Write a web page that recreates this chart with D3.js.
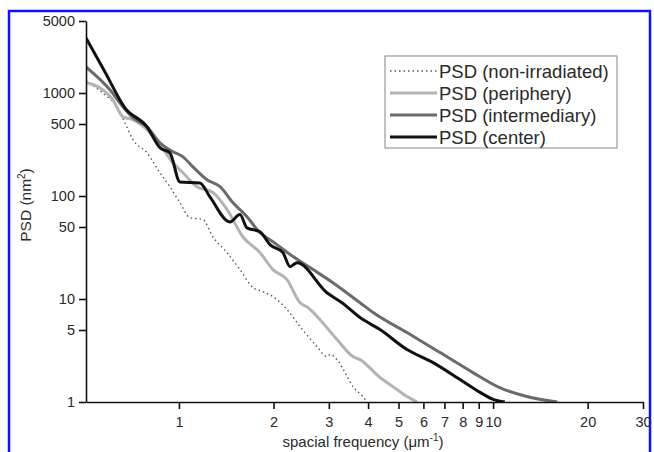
<!DOCTYPE html>
<html>
<head>
<meta charset="utf-8">
<script src="https://cdn.jsdelivr.net/npm/d3@7"></script>
<style>
  body { margin: 0; background: #fff; }
  text { font-family: "Liberation Sans", Arial, sans-serif; fill: #2a2a2a; }
</style>
</head>
<body>
<div id="chart"></div>
<script>
// Données : [fréquence (µm-1), PSD (nm2)]
const noirradie = [[0.506,1320],[0.581,960],[0.639,718],[0.673,514],[0.714,352],[0.791,263],[0.870,168],[0.936,123],
  [1.007,86],[1.084,61.6],[1.192,59],[1.283,40],[1.422,28.2],[1.564,19.3],[1.721,12.9],[1.851,11.8],[2.051,9.87],
  [2.208,7.9],[2.429,5.4],[2.751,3.45],[2.96,2.76],[3.03,2.89],[3.185,2.58],[3.43,1.77],[3.58,1.41],[3.85,1.13],[3.97,1.0]];
const peripherie = [[0.506,1256],[0.560,1122],[0.616,859],[0.663,587],[0.714,550],[0.791,440],[0.870,315],[0.957,210],
  [1.030,168],[1.141,123],[1.283,108],[1.422,74],[1.599,40],[1.811,28.2],[1.992,19.3],[2.208,15.4],[2.429,9.2],
  [2.556,8.4],[2.812,6.3],[3.185,4.04],[3.58,2.76],[3.77,2.58],[4.365,1.73],[4.80,1.41],[5.32,1.13],[5.73,1.0]];
const intermediaire = [[0.506,1791],[0.603,1074],[0.663,735],[0.714,574],[0.791,470],[0.870,329],[0.957,269],[1.030,240],
  [1.108,192],[1.228,144],[1.351,123],[1.486,86],[1.646,63],[1.811,44],[1.992,36],[2.307,25.8],[2.672,19.3],
  [3.09,14.4],[3.77,9.2],[4.15,7.4],[5.32,4.72],[6.78,3.02],[8.63,1.93],[10.5,1.38],[12.8,1.13],[16.0,1.0]];
const centre = [[0.506,3430],[0.581,1607],[0.673,718],[0.791,470],[0.870,294],[0.936,262],[1.007,137],[1.166,134],
  [1.255,98],[1.453,56],[1.564,66],[1.646,49],[1.811,45],[1.949,33.7],[2.143,28.2],[2.257,20.6],[2.376,22.5],
  [2.96,11.5],[3.304,9.2],[3.771,6.6],[4.365,5.05],[5.32,3.23],[6.44,2.41],[7.85,1.65],[9.09,1.24],[10.0,1.06],[10.9,1.0]];

const ticksX = [1,2,3,4,5,6,7,8,9,10,20,30];
const labelsX = ["1","2","3","4","5","6","7","8","9","10","20","30"];
const ticksY = [1,5,10,50,100,500,1000,5000];

const series = [
  {nom: "PSD (non-irradiated)", data: noirradie, couleur: "#555", largeur: 1.4, tirets: "1.5,3"},
  {nom: "PSD (periphery)", data: peripherie, couleur: "#b3b3b3", largeur: 3, tirets: null},
  {nom: "PSD (intermediary)", data: intermediaire, couleur: "#6b6b6b", largeur: 3, tirets: null},
  {nom: "PSD (center)", data: centre, couleur: "#111", largeur: 3, tirets: null}
];

const svg = d3.select("#chart").append("svg").attr("width", 654).attr("height", 452);

// cadre bleu
svg.append("rect").attr("x", 9).attr("y", 11).attr("width", 641).attr("height", 470)
  .attr("fill", "none").attr("stroke", "#1010ff").attr("stroke-width", 2.5);

const x = d3.scaleLog().domain([0.506, 30]).range([86, 643]);
const y = d3.scaleLog().domain([1, 5000]).range([402, 21]);

svg.append("clipPath").attr("id", "zone").append("rect")
  .attr("x", 86).attr("y", 15).attr("width", 560).attr("height", 388);

const ligne = d3.line().x(d => x(d[0])).y(d => y(d[1])).curve(d3.curveMonotoneX);

for (let s of series) {
  svg.append("path")
    .attr("d", ligne(s.data))
    .attr("fill", "none")
    .attr("stroke", s.couleur)
    .attr("stroke-width", s.largeur)
    .attr("stroke-dasharray", s.tirets)
    .attr("stroke-linejoin", "round")
    .attr("clip-path", "url(#zone)");
}

// axes
const axeX = svg.append("g").attr("transform", "translate(0,402)")
  .call(d3.axisBottom(x).tickValues(ticksX).tickFormat((d, i) => labelsX[i]).tickSize(7).tickSizeOuter(0).tickPadding(8));
const axeY = svg.append("g").attr("transform", "translate(86,0)")
  .call(d3.axisLeft(y).tickValues(ticksY).tickFormat(d3.format("d")).tickSize(7).tickSizeOuter(0).tickPadding(4));

for (let a of [axeX, axeY]) {
  a.select(".domain").attr("stroke", "#111").attr("stroke-width", 1.6);
  a.selectAll(".tick line").attr("stroke", "#111").attr("stroke-width", 1.6);
  a.selectAll("text").attr("font-size", 14.5).attr("fill", "#2a2a2a")
    .attr("font-family", "Liberation Sans, Arial, sans-serif");
}

// titres des axes
const titreX = svg.append("text").attr("x", 363).attr("y", 447).attr("text-anchor", "middle").attr("font-size", 15);
titreX.append("tspan").text("spacial frequency (\u03bcm");
titreX.append("tspan").attr("dy", -6).attr("font-size", 10).text("-1");
titreX.append("tspan").attr("dy", 6).text(")");

const titreY = svg.append("text").attr("transform", "translate(31,205) rotate(-90)").attr("text-anchor", "middle").attr("font-size", 15.5);
titreY.append("tspan").text("PSD (nm");
titreY.append("tspan").attr("dy", -6).attr("font-size", 10).text("2");
titreY.append("tspan").attr("dy", 6).text(")");

// légende
const leg = svg.append("g");
leg.append("rect").attr("x", 385).attr("y", 56).attr("width", 232).attr("height", 92)
  .attr("fill", "#fff").attr("stroke", "#999").attr("stroke-width", 1.2);
series.forEach((s, i) => {
  let yy = 71 + i * 22;
  leg.append("line").attr("x1", 390).attr("x2", 437).attr("y1", yy).attr("y2", yy)
    .attr("stroke", s.couleur).attr("stroke-width", s.largeur).attr("stroke-dasharray", s.tirets);
  leg.append("text").attr("x", 439).attr("y", yy + 6.5).attr("font-size", 18.5).text(s.nom);
});
</script>
</body>
</html>
